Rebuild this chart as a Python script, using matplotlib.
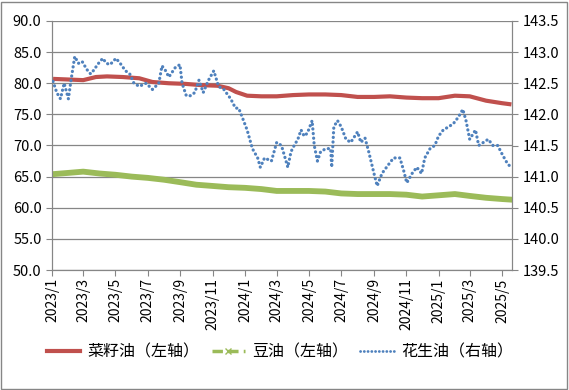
import numpy as np
import pandas as pd
import matplotlib
matplotlib.use("Agg")
import matplotlib.pyplot as plt
import matplotlib.dates as mdates
from matplotlib.lines import Line2D
from matplotlib.patches import Rectangle

plt.rcParams['font.family'] = ['Noto Sans CJK SC', 'DejaVu Sans']

# 菜籽油 (left axis)
rape_dates = ["2023-01-03", "2023-02-01", "2023-03-01", "2023-03-25", "2023-04-15", "2023-05-15",
              "2023-06-15", "2023-07-10", "2023-08-10", "2023-09-10", "2023-10-10", "2023-11-10",
              "2023-12-01", "2023-12-15", "2024-01-05", "2024-02-01", "2024-03-01", "2024-04-01",
              "2024-05-01", "2024-06-01", "2024-07-01", "2024-08-01", "2024-09-01", "2024-10-01",
              "2024-11-01", "2024-12-01", "2025-01-01", "2025-02-01", "2025-03-01", "2025-04-01",
              "2025-05-01", "2025-05-19"]
rape_vals = [80.7, 80.6, 80.5, 81.0, 81.1, 81.0,
             80.8, 80.2, 80.0, 79.9, 79.7, 79.6,
             79.2, 78.6, 78.0, 77.9, 77.9, 78.1,
             78.2, 78.2, 78.1, 77.8, 77.8, 77.9,
             77.7, 77.6, 77.6, 78.0, 77.9, 77.2,
             76.8, 76.6]

# 豆油 (left axis)
soy_dates = ["2023-01-03", "2023-02-01", "2023-03-01", "2023-04-01", "2023-05-01", "2023-06-01",
             "2023-07-01", "2023-08-01", "2023-09-01", "2023-10-01", "2023-11-01", "2023-12-01",
             "2024-01-01", "2024-02-01", "2024-03-01", "2024-04-01", "2024-05-01", "2024-06-01",
             "2024-07-01", "2024-08-01", "2024-09-01", "2024-10-01", "2024-11-01", "2024-12-01",
             "2025-01-01", "2025-02-01", "2025-03-01", "2025-04-01", "2025-05-01", "2025-05-19"]
soy_vals = [65.4, 65.6, 65.8, 65.5, 65.3, 65.0,
            64.8, 64.5, 64.1, 63.7, 63.5, 63.3,
            63.2, 63.0, 62.7, 62.7, 62.7, 62.6,
            62.3, 62.2, 62.2, 62.2, 62.1, 61.8,
            62.0, 62.2, 61.9, 61.6, 61.4, 61.3]

# 花生油 (right axis)
peanut_dates = ["2023-01-03", "2023-01-10", "2023-01-17", "2023-01-24", "2023-02-01", "2023-02-06",
                "2023-02-13", "2023-02-20", "2023-02-27", "2023-03-08", "2023-03-15", "2023-03-22",
                "2023-03-28", "2023-04-07", "2023-04-14", "2023-04-21", "2023-05-02", "2023-05-10",
                "2023-05-20", "2023-05-28", "2023-06-05", "2023-06-15", "2023-06-28", "2023-07-10",
                "2023-07-22", "2023-07-28", "2023-08-04", "2023-08-10", "2023-08-22", "2023-08-31",
                "2023-09-04", "2023-09-12", "2023-09-20", "2023-09-28", "2023-10-06", "2023-10-14",
                "2023-10-24", "2023-11-03", "2023-11-12", "2023-11-22", "2023-12-05", "2023-12-14",
                "2023-12-20", "2023-12-27", "2024-01-05", "2024-01-15", "2024-01-25", "2024-01-30",
                "2024-02-07", "2024-02-20", "2024-03-01", "2024-03-10", "2024-03-22", "2024-03-28",
                "2024-04-03", "2024-04-10", "2024-04-16", "2024-04-22", "2024-04-28", "2024-05-07",
                "2024-05-11", "2024-05-17", "2024-05-23", "2024-06-02", "2024-06-11", "2024-06-13",
                "2024-06-17", "2024-06-24", "2024-07-01", "2024-07-10", "2024-07-19", "2024-08-01",
                "2024-08-07", "2024-08-15", "2024-08-22", "2024-09-01", "2024-09-07", "2024-09-16",
                "2024-09-29", "2024-10-08", "2024-10-20", "2024-10-27", "2024-11-02", "2024-11-12",
                "2024-11-21", "2024-11-30", "2024-12-06", "2024-12-16", "2024-12-25", "2025-01-01",
                "2025-01-10", "2025-01-20", "2025-01-29", "2025-02-07", "2025-02-16", "2025-02-22",
                "2025-03-01", "2025-03-12", "2025-03-18", "2025-03-27", "2025-04-05", "2025-04-14",
                "2025-04-23", "2025-05-02", "2025-05-12", "2025-05-19"]
peanut_vals = [142.53, 142.35, 142.25, 142.5, 142.25, 142.55,
               142.93, 142.82, 142.85, 142.72, 142.65, 142.72,
               142.8, 142.9, 142.82, 142.8, 142.9, 142.82,
               142.7, 142.65, 142.5, 142.45, 142.5, 142.4,
               142.5, 142.78, 142.7, 142.6, 142.75, 142.8,
               142.5, 142.3, 142.3, 142.35, 142.55, 142.35,
               142.55, 142.7, 142.45, 142.4, 142.25, 142.1,
               142.1, 141.95, 141.75, 141.45, 141.3, 141.15,
               141.3, 141.25, 141.55, 141.5, 141.15, 141.4,
               141.5, 141.6, 141.75, 141.65, 141.7, 141.9,
               141.5, 141.25, 141.4, 141.45, 141.45, 141.15,
               141.8, 141.9, 141.8, 141.6, 141.55, 141.72,
               141.55, 141.62, 141.4, 141.05, 140.85, 141.05,
               141.2, 141.3, 141.3, 141.1, 140.9, 141.05,
               141.15, 141.05, 141.3, 141.45, 141.5, 141.65,
               141.75, 141.8, 141.85, 141.95, 142.08, 141.9,
               141.6, 141.75, 141.5, 141.55, 141.6, 141.5,
               141.5, 141.35, 141.2, 141.15]

red = '#C0504D'
green = '#9BBB59'
blue = '#4F81BD'
grid_c = '#868686'

fig = plt.figure(figsize=(5.69, 3.90), dpi=100)
ax = fig.add_axes([52/569, 1-270/390, 460/569, 249/390])
ax2 = ax.twinx()

ax.plot(pd.to_datetime(rape_dates), rape_vals, color=red, lw=3.0, solid_capstyle='butt', zorder=3)
ax.plot(pd.to_datetime(soy_dates), soy_vals, color=green, lw=4.2, zorder=3)
ax2.plot(pd.to_datetime(peanut_dates), peanut_vals, color=blue, lw=2.3,
         linestyle=(0, (0.05, 1.4)), dash_capstyle='round', zorder=3)

ax.set_ylim(50, 90)
ax.set_yticks(np.arange(50, 90.1, 5))
ax.set_yticklabels([f"{v:.1f}" for v in np.arange(50, 90.1, 5)])
ax2.set_ylim(139.5, 143.5)
ax2.set_yticks(np.arange(139.5, 143.51, 0.5))
ax2.set_yticklabels([f"{v:.1f}" for v in np.arange(139.5, 143.51, 0.5)])

ax.set_xlim(pd.Timestamp("2023-01-01"), pd.Timestamp("2025-05-20"))
ax.xaxis.set_major_locator(mdates.MonthLocator(bymonth=[1, 3, 5, 7, 9, 11]))
ax.xaxis.set_major_formatter(plt.FuncFormatter(
    lambda x, p: f"{mdates.num2date(x).year}/{mdates.num2date(x).month}"))
for lab in ax.get_xticklabels():
    lab.set_rotation(90)

ax.grid(axis='y', color=grid_c, lw=0.9)
ax.set_axisbelow(True)
for a in (ax, ax2):
    a.spines['top'].set_visible(False)
    for s in ('left', 'right', 'bottom'):
        a.spines[s].set_color(grid_c)
    a.tick_params(colors=grid_c, labelcolor='black', labelsize=10.5, length=4, direction='out')
ax.tick_params(axis='x', labelsize=10, pad=2)

handles = [Line2D([], [], color=red, lw=3.0),
           Line2D([], [], color=green, lw=2.5, ls=(0, (3, 1.5)), marker='x', markersize=4, markevery=[1]),
           Line2D([], [], color=blue, lw=2.0, ls=(0, (0.05, 1.3)), dash_capstyle='round')]
fig.legend(handles, ["菜籽油（左轴）", "豆油（左轴）", "花生油（右轴）"],
           loc='center', bbox_to_anchor=(0.492, 1-352/390), ncol=3, frameon=False,
           fontsize=11.5, handlelength=2.1, columnspacing=0.75, handletextpad=0.45)

fig.patches.append(Rectangle((0.002, 0.003), 0.995, 0.993, transform=fig.transFigure,
                             fill=False, edgecolor=grid_c, lw=1.0))

fig.savefig("out.png", dpi=100)
